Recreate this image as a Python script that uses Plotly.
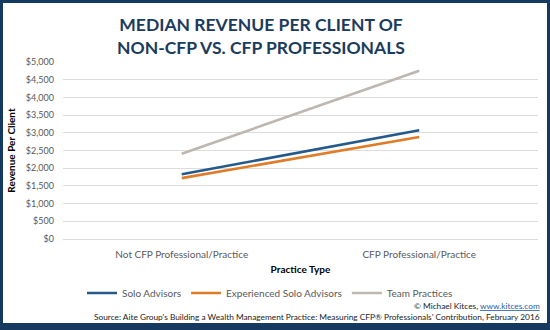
import plotly.graph_objects as go

categories = ["Not CFP Professional/Practice", "CFP Professional/Practice"]
solo = [1830, 3070]
experienced = [1720, 2880]
team = [2410, 4750]
series_names = ["Solo Advisors", "Experienced Solo Advisors", "Team Practices"]
colors = ["#25598c", "#e07c28", "#bdb7af"]
y_ticks = [0, 500, 1000, 1500, 2000, 2500, 3000, 3500, 4000, 4500, 5000]

W, H = 550, 330
ml, mr, mt, mb = 63, 12, 62, 91

fig = go.Figure()
for name, vals, c in zip(series_names, [solo, experienced, team], colors):
    fig.add_trace(go.Scatter(x=categories, y=vals, mode="lines", name=name,
                             line=dict(color=c, width=2.6)))

pw = W - ml - mr
ph = H - mt - mb
def px(x):
    return (x - ml) / pw
def py(y):
    return (H - mb - y) / ph

navy = "#163a5f"
shapes = [
    dict(type="rect", xref="paper", yref="paper", x0=px(0), x1=px(W), y0=py(0), y1=py(3),
         fillcolor=navy, line_width=0, layer="above"),
    dict(type="rect", xref="paper", yref="paper", x0=px(0), x1=px(W), y0=py(323), y1=py(H),
         fillcolor=navy, line_width=0, layer="above"),
    dict(type="rect", xref="paper", yref="paper", x0=px(0), x1=px(3), y0=py(0), y1=py(H),
         fillcolor=navy, line_width=0, layer="above"),
    dict(type="rect", xref="paper", yref="paper", x0=px(547), x1=px(W), y0=py(0), y1=py(H),
         fillcolor=navy, line_width=0, layer="above"),
]

fig.update_layout(
    width=W, height=H,
    margin=dict(l=ml, r=mr, t=mt, b=mb),
    paper_bgcolor="white", plot_bgcolor="white",
    font=dict(family="Lato", color="#595959", size=10),
    title=dict(text="<b>MEDIAN REVENUE PER CLIENT OF<br>NON-CFP VS. CFP PROFESSIONALS</b>",
               x=261 / W, xanchor="center", xref="container",
               y=1 - 31 / H, yanchor="middle", yref="container",
               font=dict(family="Lato", size=17.5, color="#1b3b5c")),
    xaxis=dict(range=[-0.5, 1.5], showgrid=False, showline=False, ticks="",
               tickfont=dict(size=10, color="#595959"), ticklabelstandoff=8,
               title=dict(text="<b>Practice Type</b>", font=dict(size=10, color="#000000"),
                          standoff=6)),
    yaxis=dict(range=[0, 5000], tickvals=y_ticks,
               ticktext=["$" + format(v, ",") for v in y_ticks],
               showgrid=True, gridcolor="#dcdcdc", gridwidth=1,
               zeroline=True, zerolinecolor="#dcdcdc", zerolinewidth=1,
               showline=False, ticks="", tickfont=dict(size=9, color="#595959"),
               ticklabelstandoff=8,
               title=dict(text="<b>Revenue Per Client</b>", font=dict(size=10, color="#000000"),
                          standoff=8)),
    legend=dict(orientation="h", x=px(270), xanchor="center", y=py(293), yanchor="middle",
                font=dict(size=10, color="#595959"), itemwidth=30,
                bgcolor="rgba(0,0,0,0)"),
    shapes=shapes,
    annotations=[
        dict(text='© Michael Kitces, <a href="https://www.kitces.com" style="color:#2a5ea8"><u>www.kitces.com</u></a>',
             xref="paper", yref="paper", x=px(542), y=py(306), xanchor="right", yanchor="middle",
             showarrow=False, font=dict(size=8.3, color="#222222")),
        dict(text="Source: Aite Group's Building a Wealth Management Practice: Measuring CFP® Professionals' Contribution, February 2016",
             xref="paper", yref="paper", x=px(542), y=py(317), xanchor="right", yanchor="middle",
             showarrow=False, font=dict(size=8.3, color="#222222")),
    ],
)

fig.write_html("out.html")
